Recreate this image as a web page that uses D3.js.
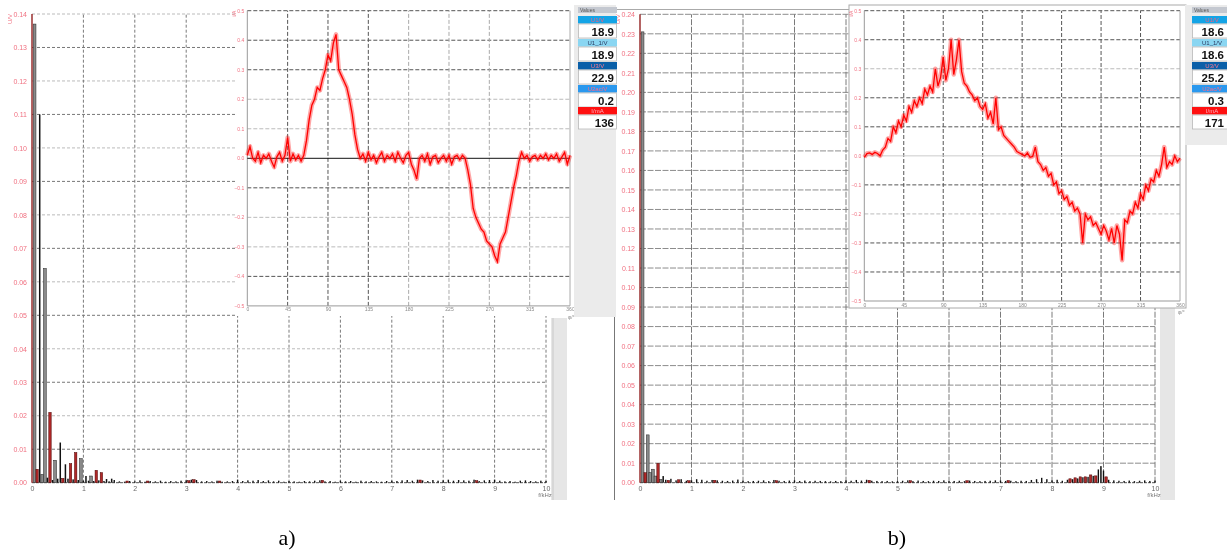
<!DOCTYPE html>
<html><head><meta charset="utf-8">
<script src="https://cdn.jsdelivr.net/npm/d3@7"></script>
<style>
html,body{margin:0;padding:0;background:#fff;}
svg{display:block;will-change:transform;}
text{font-family:"Liberation Sans",Arial,sans-serif;}
</style></head><body>
<svg id="c" width="1227" height="550"></svg>
<script>
// ---------- tick labels ----------
const freqTicks = [0,1,2,3,4,5,6,7,8,9,10];
const aYTicks = [0,0.01,0.02,0.03,0.04,0.05,0.06,0.07,0.08,0.09,0.10,0.11,0.12,0.13,0.14];
const bYTicks = [0,0.01,0.02,0.03,0.04,0.05,0.06,0.07,0.08,0.09,0.10,0.11,0.12,0.13,0.14,0.15,0.16,0.17,0.18,0.19,0.20,0.21,0.22,0.23,0.24];
const phaseTicks = [0,45,90,135,180,225,270,315,360];
const insetYTicks = [-0.5,-0.4,-0.3,-0.2,-0.1,0,0.1,0.2,0.3,0.4,0.5];
const captions = ["a)","b)"];

// ---------- side panel readings ----------
const panelLabels = ["U1/V","U1_1/V","U3/V","U2ac/V","I/mA"];
const aReadings = ["18.9","18.9","22.9","0.2","136"];
const bReadings = ["18.6","18.6","25.2","0.3","171"];

// ---------- spectrum a) (kHz, V) ----------
const aGrayFreq = [0.05,0.20,0.25,0.45,0.95,1.15];
const aGrayVal  = [0.137,0.0025,0.064,0.0067,0.0072,0.002];
const aBlackFreq = [0.15,0.30,0.40,0.50,0.55,0.65,0.70,0.80,0.90,1.00,1.05,1.10,1.20,1.30,1.40,1.45,1.50,1.55];
const aBlackVal  = [0.110,0.0015,0.0008,0.0012,0.012,0.0055,0.0012,0.001,0.0008,0.0006,0.002,0.0006,0.0005,0.0007,0.0005,0.0011,0.0004,0.0012];
const aRedFreq = [0.10,0.35,0.60,0.75,0.85,1.25,1.35,1.85,2.25,3.05,3.15,3.65,5.65,7.55,8.65];
const aRedVal  = [0.004,0.021,0.0013,0.0057,0.009,0.0037,0.003,0.0005,0.0005,0.0006,0.0009,0.0005,0.0007,0.0008,0.0006];
const aFloorStart = 1.6;
const aFloor = [0.0008,0.0004,0.0003,0.0005,0.0004,0.0007,0.0003,0.0005,0.0004,0.0006,
0.0003,0.0005,0.0004,0.0006,0.0007,0.0009,0.0008,0.0004,0.0005,0.0004,
0.0006,0.0003,0.0004,0.0005,0.0009,0.0005,0.0007,0.0006,0.0008,0.0005,
0.0007,0.0004,0.0006,0.0003,0.0005,0.0004,0.0003,0.0005,0.0004,0.0006,
0.0007,0.0004,0.0005,0.0003,0.0006,0.0004,0.0005,0.0003,0.0006,0.0004,
0.0005,0.0004,0.0003,0.0005,0.0006,0.0005,0.0007,0.0008,0.0006,0.0009,
0.0007,0.0005,0.0008,0.0006,0.0007,0.0009,0.0006,0.0008,0.0007,0.0006,
0.0009,0.0005,0.0007,0.0008,0.0009,0.0006,0.0004,0.0005,0.0003,0.0006,
0.0007,0.0005,0.0004,0.0006,0.0005];

// ---------- spectrum b) ----------
const bGrayFreq = [0.05,0.15,0.20,0.25,0.30,0.40];
const bGrayVal  = [0.231,0.0245,0.0052,0.0069,0.0034,0.0017];
const bBlackFreq = [0.45,8.95];
const bBlackVal  = [0.0034,0.0085];
const bRedFreq = [0.10,0.35,0.55,0.75,0.95,1.45,2.65,4.45,5.25,6.35,7.15,8.35,8.45,8.55,8.65,8.75,8.85,9.05];
const bRedVal  = [0.0051,0.0099,0.0012,0.0015,0.001,0.0012,0.001,0.0012,0.001,0.001,0.0011,0.002,0.0025,0.003,0.003,0.004,0.0035,0.003];
const bFloorStart = 0.5;
const bFloor = [0.0015,0.002,0.0012,0.0018,0.001,0.0012,0.0018,0.0015,0.001,0.0014,
0.0012,0.001,0.0009,0.0011,0.0016,0.001,0.0008,0.0009,0.001,0.0012,
0.0008,0.0014,0.001,0.0009,0.0011,0.0012,0.0009,0.0011,0.0008,0.001,
0.0009,0.0008,0.0007,0.0009,0.0008,0.0012,0.001,0.0014,0.0011,0.0015,
0.001,0.0009,0.0008,0.0009,0.0007,0.0008,0.001,0.0012,0.0008,0.0011,
0.0009,0.0008,0.001,0.0009,0.0012,0.0008,0.0009,0.001,0.0008,0.0011,
0.0009,0.0008,0.0009,0.001,0.0012,0.0011,0.0009,0.001,0.0008,0.001,
0.0009,0.0014,0.0018,0.0025,0.0018,0.0012,0.0015,0.001,0.0015,0.0018,
0.0022,0.0028,0.003,0.0035,0.0068,0.0062,0.0015,0.0012,0.001,0.0009,
0.0011,0.0008,0.001,0.0012,0.0009,0.0011];
const floorStep = 0.1;

// ---------- current waveforms (A) sampled every 3 degrees, 0..360 ----------
const phaseStep = 3;
const aWave = [0.01,0.04,0.0,-0.01,0.02,-0.015,0.01,0.0,0.015,-0.01,
-0.03,0.005,0.02,-0.01,0.01,0.07,-0.01,0.015,-0.005,0.01,
-0.01,0.01,0.06,0.13,0.18,0.2,0.24,0.23,0.27,0.3,
0.35,0.33,0.39,0.42,0.3,0.28,0.26,0.24,0.2,0.15,
0.08,0.03,0.0,0.015,-0.01,0.02,-0.005,0.01,-0.015,0.005,
0.02,-0.01,0.01,0.0,0.015,-0.01,0.02,0.0,-0.015,0.01,
0.02,-0.02,-0.04,-0.07,0.0,0.01,-0.01,0.015,-0.02,0.005,
0.01,-0.015,0.0,0.01,-0.01,0.01,-0.02,0.005,0.01,-0.005,
0.01,0.0,-0.04,-0.09,-0.17,-0.2,-0.22,-0.24,-0.25,-0.28,
-0.29,-0.3,-0.33,-0.35,-0.29,-0.27,-0.25,-0.2,-0.15,-0.1,
-0.06,-0.01,0.02,0.0,0.01,-0.01,0.005,0.01,-0.005,0.01,
0.0,0.015,-0.005,0.01,0.0,0.015,-0.01,0.005,0.02,-0.02,0.01];
const bWave = [-0.005,0.008,0.01,0.005,0.012,0.008,0.0,0.02,0.03,0.06,
0.05,0.1,0.08,0.12,0.1,0.14,0.12,0.17,0.15,0.19,
0.17,0.2,0.18,0.23,0.21,0.24,0.22,0.3,0.24,0.27,
0.34,0.26,0.3,0.4,0.28,0.33,0.4,0.29,0.25,0.24,
0.22,0.21,0.19,0.2,0.17,0.16,0.18,0.13,0.15,0.11,
0.2,0.09,0.1,0.07,0.06,0.05,0.04,0.03,0.015,0.01,
0.005,0.0,0.01,-0.005,-0.002,0.03,-0.02,-0.03,-0.05,-0.04,
-0.07,-0.06,-0.1,-0.09,-0.13,-0.12,-0.15,-0.14,-0.17,-0.16,
-0.19,-0.18,-0.2,-0.3,-0.2,-0.22,-0.21,-0.24,-0.23,-0.25,
-0.27,-0.24,-0.26,-0.29,-0.25,-0.3,-0.24,-0.27,-0.36,-0.22,
-0.23,-0.19,-0.2,-0.16,-0.18,-0.13,-0.15,-0.1,-0.12,-0.08,
-0.09,-0.05,-0.07,-0.03,0.03,-0.04,-0.02,-0.03,0.0,-0.02,-0.008];

// =====================================================
const svg = d3.select("#c");
const PINK = "#f07080";

function spectrum(c){
  const x = d3.scaleLinear().domain([0,10]).range([c.x0,c.x1]);
  const y = d3.scaleLinear().domain([0,c.ymax]).range([c.yb,c.yt]);
  const g = svg.append("g");
  g.selectAll(null).data(c.yTicks.slice(1)).join("line")
    .attr("x1",c.x0).attr("x2",c.x1)
    .attr("y1",d=>y(d)).attr("y2",d=>y(d))
    .attr("stroke",(d,i)=> c.alt ? (i%2===0 ? "#777" : "#bbb") : "#8c8c8c")
    .attr("stroke-width",1)
    .attr("stroke-dasharray",c.dash);
  g.selectAll(null).data(freqTicks.slice(1)).join("line")
    .attr("x1",d=>x(d)).attr("x2",d=>x(d))
    .attr("y1",c.yb).attr("y2",c.yt)
    .attr("stroke","#7a7a7a").attr("stroke-dasharray",c.dash);
  g.append("line").attr("x1",c.x0).attr("x2",c.x1).attr("y1",y(0)).attr("y2",y(0))
    .attr("stroke","#555").attr("stroke-dasharray","3,1");
  const floor = c.floor.map((v,i)=>({f:c.floorStart+i*floorStep,v}));
  const bars = (data,w,fill,stroke)=>{
    g.append("g").selectAll("rect").data(data).join("rect")
      .attr("x",d=>x(d.f)-w/2).attr("width",w)
      .attr("y",d=>y(d.v)).attr("height",d=>y(0)-y(d.v))
      .attr("fill",fill).attr("stroke",stroke).attr("stroke-width",0.5);
  };
  bars(floor,1.4,"#111","none");
  bars(c.grayF.map((f,i)=>({f,v:c.grayV[i]})),2.8,"#8a8a8a","#222");
  bars(c.redF.map((f,i)=>({f,v:c.redV[i]})),2.4,"#b02828","#4a0000");
  bars(c.blackF.map((f,i)=>({f,v:c.blackV[i]})),1.5,"#111","none");
  g.append("line").attr("x1",c.x0).attr("x2",c.x0).attr("y1",y(0)).attr("y2",c.yt)
    .attr("stroke","#8b1010").attr("stroke-width",1.3);
  const ya = g.append("g").attr("transform",`translate(${c.x0},0)`)
    .call(d3.axisLeft(y).tickValues(c.yTicks).tickSize(0).tickPadding(5).tickFormat(d3.format(".2f")));
  ya.select(".domain").remove();
  ya.selectAll("text").attr("fill",PINK).style("font-size","7px").style("font-family","Liberation Sans, Arial");
  const xa = g.append("g").attr("transform",`translate(0,${c.yb})`)
    .call(d3.axisBottom(x).tickValues(freqTicks).tickSize(0).tickPadding(3).tickFormat(d3.format("d")));
  xa.select(".domain").remove();
  xa.selectAll("text").attr("fill","#6a6a6a").style("font-size","7px").style("font-family","Liberation Sans, Arial");
  g.append("text").attr("x",c.x1-1).attr("y",c.yb+14).attr("text-anchor","middle")
    .attr("fill","#777").style("font-size","6px").text("f/kHz");
  g.append("text").attr("transform",`translate(${c.x0-20},${c.yt+5}) rotate(-90)`)
    .attr("text-anchor","middle").attr("fill",PINK).style("font-size","6px").text("U/V");
}

function inset(c, vals){
  const x = d3.scaleLinear().domain([0,360]).range([c.x0,c.x1]);
  const y = d3.scaleLinear().domain([-0.5,0.5]).range([c.yb,c.yt]);
  const g = svg.append("g");
  g.append("rect").attr("x",c.bx).attr("y",c.by).attr("width",c.bw).attr("height",c.bh)
    .attr("fill","#fff").attr("stroke",c.border||"none");
  g.selectAll(null).data(insetYTicks.filter(d=>d!==0 && d!==-0.5)).join("line")
    .attr("x1",c.x0).attr("x2",c.x1).attr("y1",d=>y(d)).attr("y2",d=>y(d))
    .attr("stroke",d=> c.darkY.includes(d) ? "#555" : "#bbb")
    .attr("stroke-dasharray","4,2");
  g.selectAll(null).data(phaseTicks.filter(d=>d!==0 && d!==360)).join("line")
    .attr("x1",d=>x(d)).attr("x2",d=>x(d)).attr("y1",c.yb).attr("y2",c.yt)
    .attr("stroke",d=> c.darkX.includes(d) ? "#555" : "#aaa")
    .attr("stroke-dasharray","4,2");
  g.append("line").attr("x1",c.x0).attr("x2",c.x1).attr("y1",y(-0.5)).attr("y2",y(-0.5)).attr("stroke","#999");
  g.append("line").attr("x1",c.x0).attr("x2",c.x0).attr("y1",c.yb).attr("y2",c.yt).attr("stroke","#999");
  g.append("line").attr("x1",c.x1).attr("x2",c.x1).attr("y1",c.yb).attr("y2",c.yt).attr("stroke","#aaa");
  g.append("line").attr("x1",c.x0).attr("x2",c.x1).attr("y1",y(0)).attr("y2",y(0))
    .attr("stroke",c.zero).attr("stroke-width",1);
  const ya = g.append("g").attr("transform",`translate(${c.x0},0)`)
    .call(d3.axisLeft(y).tickValues(insetYTicks).tickSize(0).tickPadding(3).tickFormat(d3.format(".1f")));
  ya.select(".domain").remove();
  ya.selectAll("text").attr("fill",PINK).style("font-size","5px");
  const xa = g.append("g").attr("transform",`translate(0,${c.yb})`)
    .call(d3.axisBottom(x).tickValues(phaseTicks).tickSize(0).tickPadding(2).tickFormat(d3.format("d")));
  xa.select(".domain").remove();
  xa.selectAll("text").attr("fill","#888").style("font-size","5px");
  g.append("text").attr("x",c.x1-2).attr("y",c.yb+13).attr("fill","#888").style("font-size","5px").text("φ/°");
  g.append("text").attr("transform",`translate(${c.x0-11},${c.yt+3}) rotate(-90)`)
    .attr("text-anchor","middle").attr("fill",PINK).style("font-size","5px").text("i/A");
  const pts = vals.map((v,i)=>[i*phaseStep,v]);
  const line = d3.line().x(d=>x(d[0])).y(d=>y(d[1]));
  g.append("path").attr("d",line(pts)).attr("fill","none").attr("stroke","#ff2020")
    .attr("stroke-opacity",0.4).attr("stroke-width",4.5).attr("stroke-linejoin","round");
  g.append("path").attr("d",line(pts)).attr("fill","none").attr("stroke","#ff0000")
    .attr("stroke-width",1.3);
}

function sidePanel(c, readings){
  const g = svg.append("g");
  g.append("rect").attr("x",c.gx).attr("y",c.gy).attr("width",c.gw).attr("height",c.gh).attr("fill","#ebebeb");
  g.append("rect").attr("x",c.x).attr("y",7).attr("width",c.w).attr("height",6).attr("fill","#c4c8d0");
  g.append("text").attr("x",c.x+2).attr("y",12).attr("fill","#555").style("font-size","5px").text("Values");
  const hdrFill = ["#14a4e6","#8ad6f2","#0a5fa8","#2a98ee","#ff1010"];
  const hdrText = ["#ff5a78","#2a3a60","#ff7a90","#ff6a88","#ffb0c0"];
  const hy = [16,39,62,85,107];
  panelLabels.forEach((lab,i)=>{
    g.append("rect").attr("x",c.x).attr("y",hy[i]).attr("width",c.w).attr("height",7.5).attr("fill",hdrFill[i]);
    g.append("text").attr("x",c.x+c.w/2).attr("y",hy[i]+6).attr("text-anchor","middle")
      .attr("fill",hdrText[i]).style("font-size","6px").text(lab);
    g.append("rect").attr("x",c.x+0.5).attr("y",hy[i]+8).attr("width",c.w-1).attr("height",14)
      .attr("fill","#fff").attr("stroke","#b8b8b8").attr("stroke-width",0.8);
    g.append("text").attr("x",c.tx).attr("y",hy[i]+19.5).attr("text-anchor","end")
      .attr("fill","#111").style("font-size","11.5px").style("font-weight","bold").text(readings[i]);
  });
}

svg.append("rect").attr("x",551).attr("y",318).attr("width",16).attr("height",182).attr("fill","#e6e6e6");
svg.append("line").attr("x1",553).attr("x2",553).attr("y1",318).attr("y2",500).attr("stroke","#c8c8c8");
svg.append("rect").attr("x",1160).attr("y",308).attr("width",15).attr("height",192).attr("fill","#e6e6e6");
svg.append("line").attr("x1",614.5).attr("x2",614.5).attr("y1",317).attr("y2",500).attr("stroke","#777");
svg.append("line").attr("x1",615).attr("x2",849).attr("y1",9.5).attr("y2",9.5).attr("stroke","#aaa");

spectrum({x0:32,x1:546,yb:482.7,yt:14,ymax:0.14,yTicks:aYTicks,alt:true,dash:"3,2",
  grayF:aGrayFreq,grayV:aGrayVal,blackF:aBlackFreq,blackV:aBlackVal,redF:aRedFreq,redV:aRedVal,
  floor:aFloor,floorStart:aFloorStart});
spectrum({x0:640,x1:1155,yb:482.7,yt:14.3,ymax:0.24,yTicks:bYTicks,alt:false,dash:"6,1.5",
  grayF:bGrayFreq,grayV:bGrayVal,blackF:bBlackFreq,blackV:bBlackVal,redF:bRedFreq,redV:bRedVal,
  floor:bFloor,floorStart:bFloorStart});

inset({bx:235,by:0,bw:340,bh:316,x0:247.3,x1:570,yt:10.7,yb:305.9,zero:"#111",
  darkY:[0.5,0.4,0.3,-0.1,-0.4],darkX:[45,90,135]}, aWave);
inset({bx:849,by:5,bw:337,bh:303,border:"#aaa",x0:864.3,x1:1180,yt:10.7,yb:301,zero:"#ccc",
  darkY:[0.5,0.4,0.2,0.1,-0.1,-0.3,-0.4],darkX:[45,90,135,180,225,270,315]}, bWave);

sidePanel({gx:574,gy:5,gw:42,gh:312,x:578,w:39,tx:614}, aReadings);
sidePanel({gx:1185,gy:5,gw:42,gh:140,x:1192,w:40,tx:1224}, bReadings);

svg.selectAll(".cap").data(captions).join("text")
  .attr("x",(d,i)=> i===0 ? 287 : 897).attr("y",545).attr("text-anchor","middle")
  .style("font-family","Liberation Serif, Times New Roman, serif").style("font-size","22px")
  .attr("fill","#000").text(d=>d);
</script>
</body></html>
